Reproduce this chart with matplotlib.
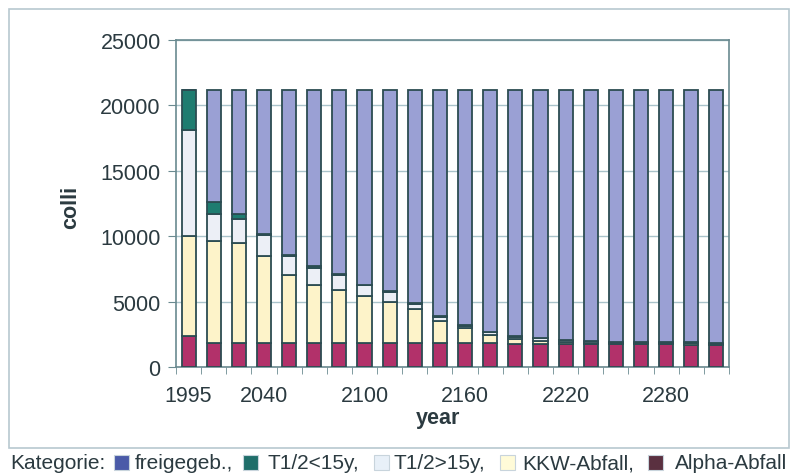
import numpy as np
import matplotlib
matplotlib.use("Agg")
import matplotlib.pyplot as plt
from matplotlib.patches import Rectangle

plt.rcParams['font.family'] = ['Liberation Sans', 'DejaVu Sans']

# Daten
years = [1995 + 15 * i for i in range(22)]
tick_years = [1995, 2040, 2100, 2160, 2220, 2280]

alpha = [2400, 1850, 1850, 1850, 1850, 1850, 1850, 1800, 1800, 1800, 1800,
         1800, 1800, 1750, 1750, 1750, 1750, 1750, 1750, 1750, 1700, 1700]
kkw = [7650, 7750, 7650, 6600, 5200, 4450, 4050, 3650, 3200, 2600, 1750,
       1200, 650, 400, 250, 150, 100, 100, 100, 50, 100, 80]
t_gt15 = [8050, 2100, 1800, 1650, 1400, 1300, 1150, 800, 750, 450, 300,
          150, 200, 180, 200, 150, 100, 50, 50, 80, 70, 50]
t_lt15 = [3100, 950, 400, 50, 100, 100, 50, 50, 50, 50, 50,
          50, 50, 50, 30, 20, 20, 20, 10, 20, 30, 20]
freigegeben = [0, 8550, 9500, 11050, 12650, 13500, 14100, 14900, 15400, 16300, 17300,
               18000, 18500, 18820, 18970, 19130, 19230, 19280, 19290, 19300, 19300, 19350]

serien = [
    ("Alpha-Abfall", alpha, "#b2316a", "#5a3040"),
    ("KKW-Abfall", kkw, "#fdf3c9", "#fffbd8"),
    ("T1/2>15y", t_gt15, "#eceff6", "#e8f0f8"),
    ("T1/2<15y", t_lt15, "#1e7c70", "#1f6e6a"),
    ("freigegeb.", freigegeben, "#9aa0d4", "#4a5aa8"),
]

textfarbe = "#2b3a40"
kante = "#2c4c52"
fs = 15.5

fig = plt.figure(figsize=(7.9, 4.77), dpi=100)

# Rahmen des Diagramms
fig.patches.append(Rectangle((9 / 790, 28 / 477), 780 / 790, 439 / 477,
                             transform=fig.transFigure, fill=False,
                             edgecolor="#b8c8d0", linewidth=1.2))

ax = fig.add_axes([176 / 790, 109 / 477, 553 / 790, 327 / 477])

x = np.arange(len(years))
unten = np.zeros(len(years))
for name, werte, farbe, _ in serien:
    ax.bar(x, werte, bottom=unten, width=0.56, color=farbe,
           edgecolor=kante, linewidth=1.3, zorder=3)
    unten += np.array(werte)

ax.set_xlim(-0.5, len(years) - 0.5)
ax.set_ylim(0, 25000)
ax.set_yticks(np.arange(0, 25001, 5000))
ax.yaxis.grid(True, color="#a9c3cb", linewidth=1, zorder=0)

pos = [years.index(j) for j in tick_years]
ax.set_xticks(pos)
ax.set_xticklabels([str(j) for j in tick_years])
ax.set_xticks(np.arange(-0.5, len(years), 1), minor=True)
ax.tick_params(axis='x', which='major', length=0, pad=13, labelsize=fs, labelcolor=textfarbe)
ax.tick_params(axis='x', which='minor', length=5, color="#6a8a90", direction='out')
ax.tick_params(axis='y', length=6, pad=5, labelsize=fs, labelcolor=textfarbe, color="#6a8a90")

for s in ax.spines.values():
    s.set_color("#6a8a90")
    s.set_linewidth(1.2)

ax.set_ylabel("colli", fontsize=fs, fontweight='bold', color=textfarbe)
ax.yaxis.set_label_coords(-0.172, 0.49)
ax.set_xlabel("year", fontsize=fs, fontweight='bold', color=textfarbe)
ax.xaxis.set_label_coords(0.474, -0.122)

# Kategorie-Zeile unten
yl = 13 / 477
fig.text(10 / 790, yl, "Kategorie:", fontsize=15, color=textfarbe, va='center')
eintraege = [
    (114, 135, "freigegeb.,", serien[4][3]),
    (243, 268, "T1/2<15y,", serien[3][3]),
    (374, 393, "T1/2>15y,", serien[2][3]),
    (500, 522, "KKW-Abfall,", serien[1][3]),
    (648, 675, "Alpha-Abfall", serien[0][3]),
]
for px, tx, txt, farbe in eintraege:
    fig.patches.append(Rectangle((px / 790, (yl * 477 - 7) / 477), 15 / 790, 15 / 477,
                                 transform=fig.transFigure, facecolor=farbe,
                                 edgecolor="#c8d4dc", linewidth=0.8))
    fig.text(tx / 790, yl, txt, fontsize=15, color=textfarbe, va='center')

fig.savefig("out.png", dpi=100)
